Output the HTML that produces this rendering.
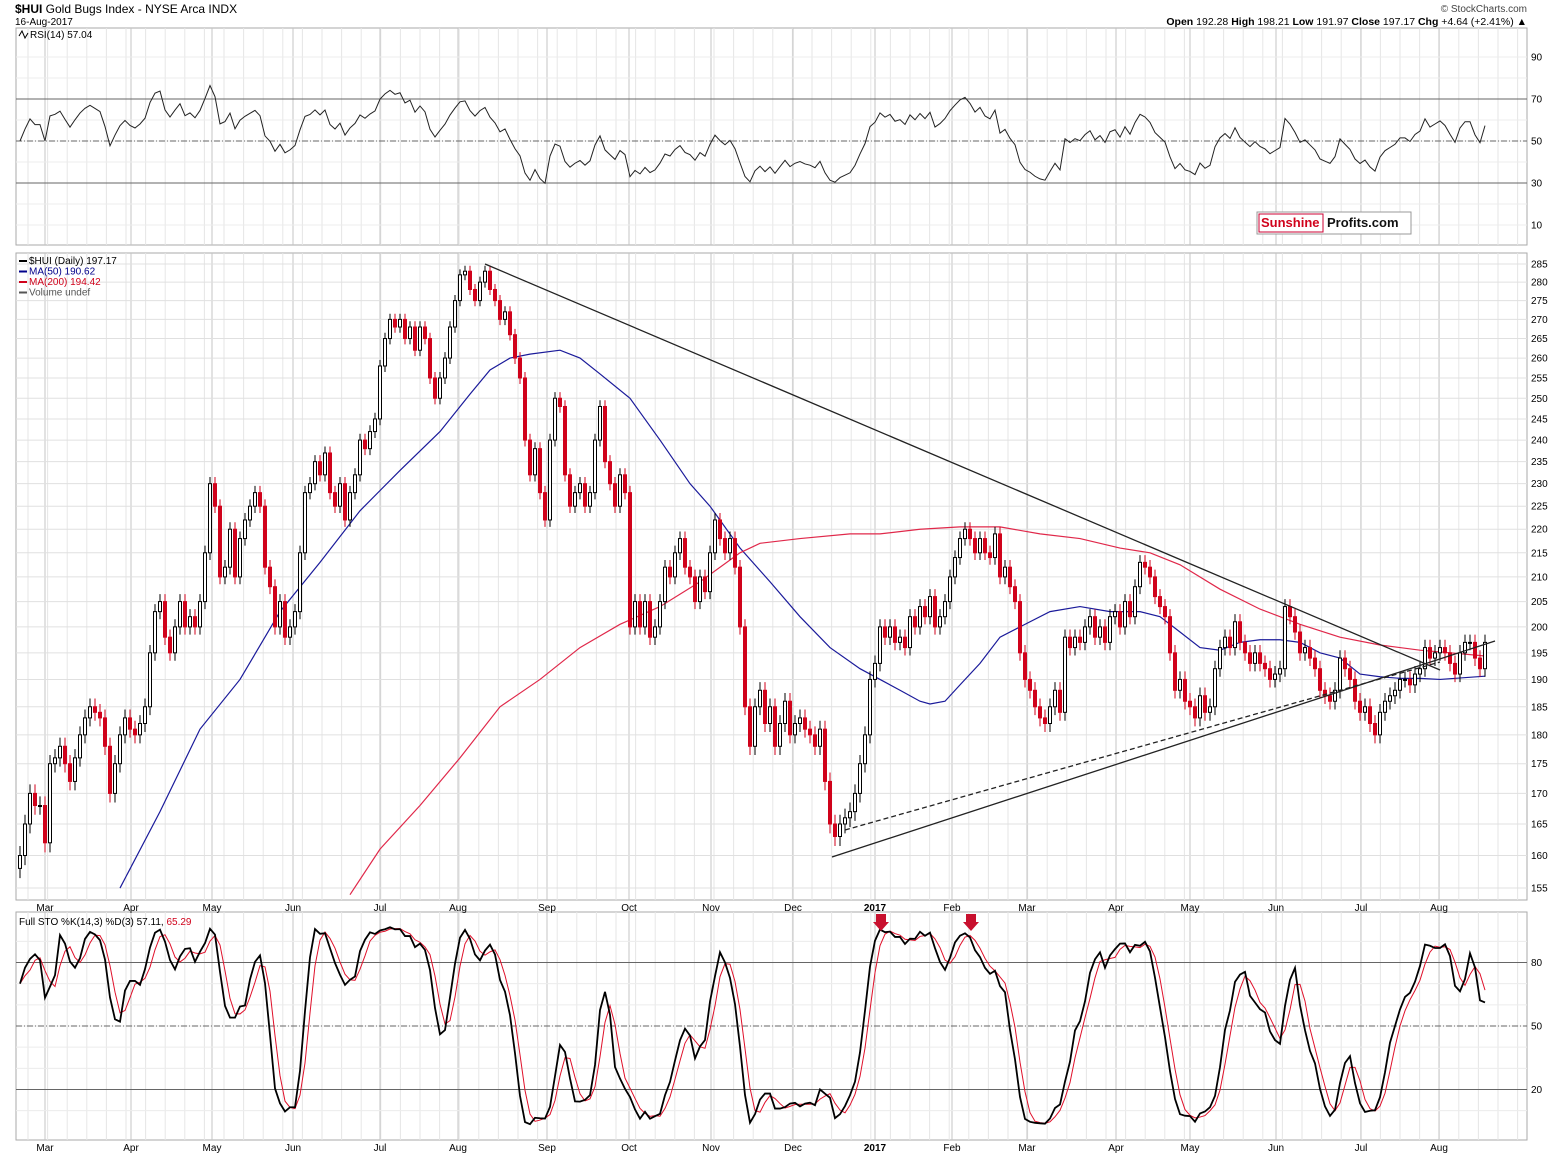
<!DOCTYPE html>
<html><head><meta charset="utf-8"><style>
body{margin:0;background:#fff;}
svg{display:block;font-family:"Liberation Sans",sans-serif;}
</style></head><body>
<svg id="c" width="1565" height="1157" viewBox="0 0 1565 1157" xmlns="http://www.w3.org/2000/svg">
<rect width="1565" height="1157" fill="#fff"/>
<g>
<text x="15" y="13" font-size="12"><tspan font-weight="bold">$HUI</tspan> Gold Bugs Index - NYSE Arca INDX</text>
<text x="15" y="25" font-size="10">16-Aug-2017</text>
<text x="1527" y="12" font-size="10" text-anchor="end" fill="#444">© StockCharts.com</text>
<text x="1527" y="25" font-size="10.5" text-anchor="end"><tspan font-weight="bold">Open</tspan> 192.28 <tspan font-weight="bold">High</tspan> 198.21 <tspan font-weight="bold">Low</tspan> 191.97 <tspan font-weight="bold">Close</tspan> 197.17 <tspan font-weight="bold">Chg</tspan> +4.64 (+2.41%) ▲</text>
</g>
<g id="grid"></g>
<g id="marks"></g>
<g>
<rect x="1257" y="212" width="154" height="22" fill="#fff" stroke="#999"/>
<rect x="1259" y="214" width="64" height="18" fill="#fff" stroke="#c03"/>
<text x="1261" y="227" font-size="13" font-weight="bold" fill="#d0021b">Sunshine</text>
<text x="1327" y="227" font-size="13" font-weight="bold" fill="#111">Profits.com</text>
</g>
</svg>
<script>
const closes=[160,165,170,168,168,162,175,176,178,175,172,176,180,183,185,184,183,178,170,175,180,183,181,180,182,185,195,203,205,198,195,200,205,200,202,200,205,215,230,225,210,212,220,210,218,222,225,228,225,212,208,200,205,198,200,203,215,228,230,235,232,237,228,225,230,222,228,232,240,238,242,245,258,265,270,268,270,265,268,262,268,265,255,250,255,260,268,275,282,283,278,275,280,283,278,275,270,272,266,260,255,240,232,238,228,222,240,250,248,232,225,228,230,225,228,240,248,235,230,225,232,228,200,205,200,205,198,200,205,212,210,215,218,212,210,205,210,207,215,222,218,215,218,212,200,185,178,185,188,182,185,178,182,186,180,182,183,181,180,178,181,172,165,163,165,166,167,170,175,180,190,193,200,198,200,197,198,196,202,200,204,202,206,200,202,205,210,214,218,220,218,215,218,215,214,219,210,212,208,205,195,190,188,185,183,182,185,188,184,198,196,198,197,200,202,198,200,197,202,203,200,205,202,208,213,212,210,206,204,202,195,188,190,186,185,183,187,184,185,192,196,198,196,201,197,195,193,195,193,192,190,191,192,204,202,199,195,196,194,192,188,187,186,188,194,192,190,186,184,185,182,180,184,186,187,188,190,190,189,191,192,196,194,195,196,195,193,191,195,197,197,194,192,197];
const ma50Idx=[20,28,36,44,52,60,68,76,84,90,94,98,102,108,112,116,122,128,134,138,144,150,156,162,168,172,176,180,182,185,188,192,196,200,206,212,218,224,228,232,236,240,244,248,252,256,260,264,268,272,276,280,284,293];
const ma50Val=[155,167,181,190,203,213,224,233,242,251,257,260,261,262,260,256,250,240,230,225,216,209,202,196,192,190,188,186,185.5,186,189,193,198,200,203,204,203,203,202,199,196,195.5,197,197.5,197.5,197,195,194,191,190.5,190.2,190.2,190,190.6];
const ma200Idx=[66,72,80,88,96,104,112,120,128,136,144,148,156,166,172,180,188,196,204,212,220,226,232,240,248,256,264,272,280,286,293];
const ma200Val=[154,161,168,176,185,190,196,200.5,204,209,215,217,218,219,219,220,220.5,220.5,219,218,216,215,212.5,207.5,203.5,200.5,198,196.5,195.5,195,194.4];
const priceTicks=[155,160,165,170,175,180,185,190,195,200,205,210,215,220,225,230,235,240,245,250,255,260,265,270,275,280,285];
const monthLabels=["Mar","Apr","May","Jun","Jul","Aug","Sep","Oct","Nov","Dec","2017","Feb","Mar","Apr","May","Jun","Jul","Aug"];
const monthIdx=[5,22.2,38.4,54.6,72,87.6,105.4,121.8,138.2,154.6,171,186.4,201.4,219.2,234,251.2,268.2,283.8];
const rsiTicks=[10,30,50,70,90];
const stoTicks=[20,50,80];

const NS="http://www.w3.org/2000/svg";
const grid=document.getElementById('grid'),marks=document.getElementById('marks');
function mk(tag,attrs,parent){const e=document.createElementNS(NS,tag);for(const k in attrs)e.setAttribute(k,attrs[k]);(parent||marks).appendChild(e);return e;}
const L=16,R=1527;
const xS=i=>20+i*5;
const pTop=264,pK=1024.6,lnTop=Math.log(285);
const yP=v=>pTop+(lnTop-Math.log(v))*pK;
const yR=v=>141-(v-50)*2.1;
const yS=v=>1026-(v-50)*(127/60);

// derived OHLC
const opens=closes.map((c,i)=>i?closes[i-1]:c-2);
const highs=closes.map((c,i)=>Math.max(c,opens[i])+1.5);
const lows=closes.map((c,i)=>Math.min(c,opens[i])-1.5);

// panels
[[28,245,'rsi-panel'],[253,900,'price-panel'],[912,1140,'stochastic-panel']].forEach(p=>{
  const r=mk('rect',{x:L,y:p[0],width:R-L,height:p[1]-p[0],fill:'#fff',stroke:'#aaa'},grid);
  
  
});
// vertical weekly grid
for(let x=28;x<R;x+=19.6){[[28,245],[253,900],[912,1140]].forEach(p=>mk('line',{x1:x,x2:x,y1:p[0],y2:p[1],stroke:'#e6e6e6'},grid));}
monthIdx.forEach((m,k)=>{const x=xS(m);
  [[28,245],[253,900],[912,1140]].forEach(p=>mk('line',{x1:x,x2:x,y1:p[0],y2:p[1],stroke:'#c4c4c4'},grid));
  const t1=mk('text',{x:x,y:911,'font-size':10,'text-anchor':'middle','font-weight':monthLabels[k]==='2017'?'bold':'normal'},grid);t1.textContent=monthLabels[k];
  
  
  const t2=mk('text',{x:x,y:1151,'font-size':10,'text-anchor':'middle','font-weight':monthLabels[k]==='2017'?'bold':'normal'},grid);t2.textContent=monthLabels[k];
  
  
});
priceTicks.forEach(v=>{const y=yP(v);mk('line',{x1:L,x2:R,y1:y,y2:y,stroke:'#e0e0e0'},grid);
  const t=mk('text',{x:1531,y:y+3.5,'font-size':10},grid);t.textContent=v;
  
  });
for(let v=10;v<=90;v+=10){const y=yR(v);mk('line',{x1:L,x2:R,y1:y,y2:y,stroke:'#ececec'},grid);}
rsiTicks.forEach(v=>{const y=yR(v);
  if(v===30||v===70)mk('line',{x1:L,x2:R,y1:y,y2:y,stroke:'#666'},grid);
  if(v===50)mk('line',{x1:L,x2:R,y1:y,y2:y,stroke:'#666','stroke-dasharray':'6,2,1,2'},grid);
  const t=mk('text',{x:1531,y:y+3.5,'font-size':10},grid);t.textContent=v;
  
  });
for(let v=10;v<=90;v+=10){const y=yS(v);mk('line',{x1:L,x2:R,y1:y,y2:y,stroke:'#ececec'},grid);}
stoTicks.forEach(v=>{const y=yS(v);
  mk('line',{x1:L,x2:R,y1:y,y2:y,stroke:'#666','stroke-dasharray':v===50?'6,2,1,2':'none'},grid);
  const t=mk('text',{x:1531,y:y+3.5,'font-size':10},grid);t.textContent=v;
  
  });

// legends
let t=mk('text',{x:30,y:38,'font-size':10});t.textContent='RSI(14) 57.04';

mk('polyline',{points:'19,36 22,31 25,38 28,33',fill:'none',stroke:'#000'});
const lg=[['$HUI (Daily) 197.17','#000'],['MA(50) 190.62','#00008b'],['MA(200) 194.42','#d0021b'],['Volume undef','#555']];
lg.forEach((l,k)=>{const y=264+k*10.5;
  mk('line',{x1:19,x2:27,y1:y-3,y2:y-3,stroke:l[1],'stroke-width':2});
  const e=mk('text',{x:29,y:y,'font-size':10,fill:l[1]});e.textContent=l[0];
  
  });
t=mk('text',{x:19,y:925,'font-size':10});t.innerHTML='Full STO %K(14,3) %D(3) 57.11, <tspan fill="#d0021b">65.29</tspan>';


// clip
const cp=mk('clipPath',{id:'pc'});mk('rect',{x:L,y:253,width:R-L,height:647},cp);
const pg=mk('g',{'clip-path':'url(#pc)'});



// MAs
function maLine(idx,val,col,name){const pts=idx.map((d,k)=>xS(d)+','+yP(val[k])).join(' ');
  const e=mk('polyline',{points:pts,fill:'none',stroke:col,'stroke-width':1.2},pg);
  
  }
maLine(ma50Idx,ma50Val,'#1a1a9a','ma50-line');
maLine(ma200Idx,ma200Val,'#e0284a','ma200-line');

// candles
closes.forEach((c,i)=>{const o=opens[i],x=xS(i),up=c>=o,col=up?'#000':'#d0021b';
  const w=mk('line',{x1:x,x2:x,y1:yP(highs[i]),y2:yP(lows[i]),stroke:col},pg);
  
  
  const yt=yP(Math.max(o,c)),yb=yP(Math.min(o,c));
  const b=mk('rect',{x:x-1.5,y:yt,width:3,height:Math.max(1,yb-yt),fill:up?'#fff':'#d0021b',stroke:col,'stroke-width':1},pg);
  
  
});

// trend lines
function tl(x1,y1,x2,y2,dash,name){const e=mk('line',{x1,y1,x2,y2,stroke:'#222','stroke-width':1.3,'stroke-dasharray':dash||'none'},pg);
  
  }
tl(485,264,1440,670,null,'resistance-trendline');
tl(832,857,1495,641,null,'support-trendline');
tl(845,830,1440,662,'5,3','dashed-support-trendline');

// RSI
const rsi=[];let ag=1.5,al=1.5;
closes.forEach((c,i)=>{if(i>0){const d=c-closes[i-1];ag=(ag*13+Math.max(d,0))/14;al=(al*13+Math.max(-d,0))/14;}rsi.push(100-100/(1+ag/al));});
const rl=mk('polyline',{points:rsi.map((v,i)=>xS(i)+','+yR(v)).join(' '),fill:'none',stroke:'#222','stroke-width':1});



// Stochastic
const raw=closes.map((c,i)=>{const s=Math.max(0,i-13);const hh=Math.max(...highs.slice(s,i+1)),ll=Math.min(...lows.slice(s,i+1));return hh>ll?100*(c-ll)/(hh-ll):50;});
const sma=(a,n)=>a.map((v,i)=>{const s=Math.max(0,i-n+1),sl=a.slice(s,i+1);return sl.reduce((p,q)=>p+q,0)/sl.length;});
const K=sma(raw,3),D=sma(K,3);
const dl=mk('polyline',{points:D.map((v,i)=>xS(i)+','+yS(v)).join(' '),fill:'none',stroke:'#e0102a','stroke-width':1});


const kl=mk('polyline',{points:K.map((v,i)=>xS(i)+','+yS(v)).join(' '),fill:'none',stroke:'#000','stroke-width':1.8});



// arrows
[881,971].forEach(x=>{const a=mk('polygon',{points:(x-5)+',914 '+(x+5)+',914 '+(x+5)+',922 '+(x+8)+',922 '+x+',931 '+(x-8)+',922 '+(x-5)+',922',fill:'#c8102e'});
  
  });
</script>
</body></html>
